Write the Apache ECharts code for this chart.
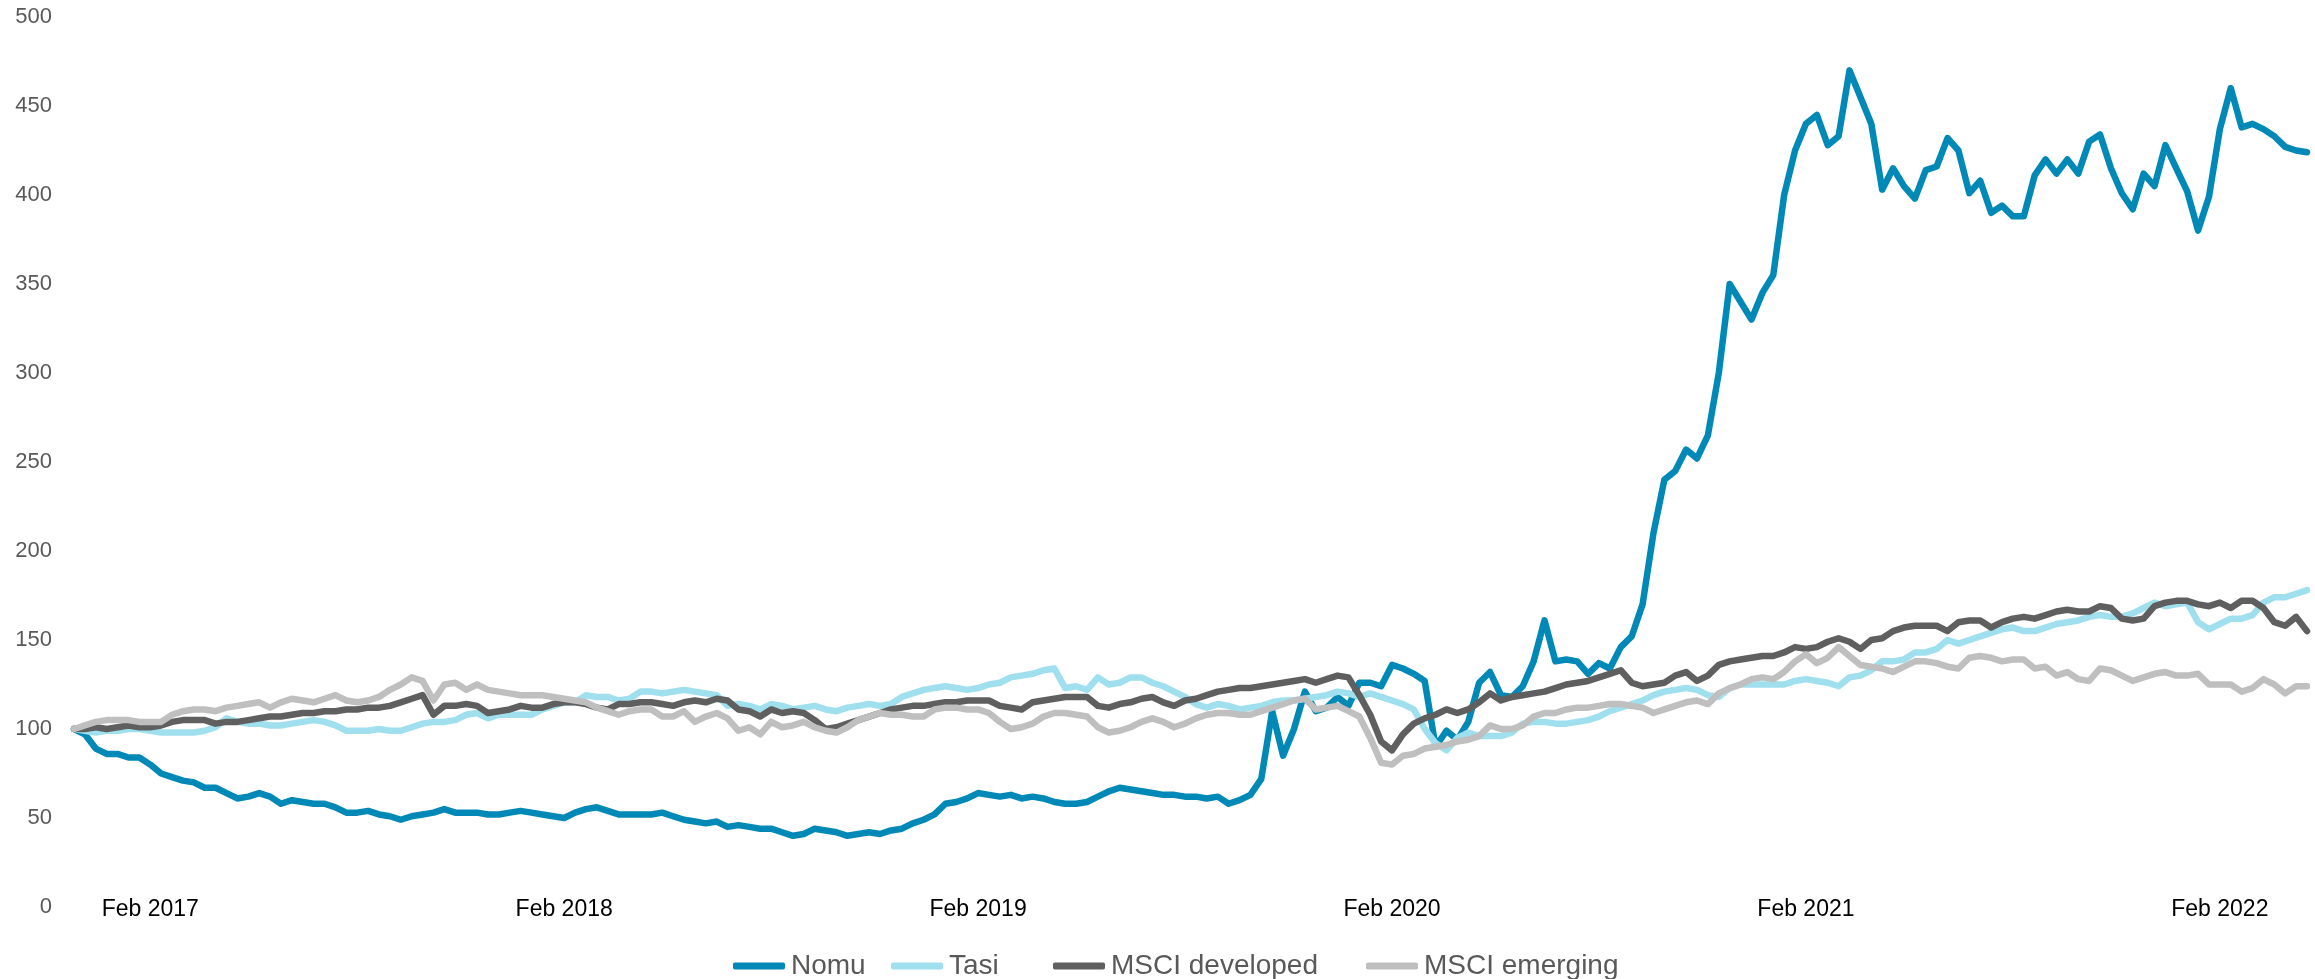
<!DOCTYPE html>
<html>
<head>
<meta charset="utf-8">
<script src="https://cdn.jsdelivr.net/npm/echarts@6/dist/echarts.min.js"></script>
<style>
html,body{margin:0;padding:0;background:#fff;}
#chart{width:2315px;height:979px;}
</style>
</head>
<body>
<div id="chart"></div>
<script>
// Period index (roughly every ~9.6 days, Dec 2016 – Apr 2022)
const tickLabels = ['Feb 2017','Feb 2018','Feb 2019','Feb 2020','Feb 2021','Feb 2022'];
const tickIndex = [7, 45, 83, 121, 159, 197];
const seriesNames = ['Nomu','Tasi','MSCI developed','MSCI emerging'];

const nomu = [100,97,89,86,86,84,84,80,75,73, 71,70,67,67,64,61,62,64,62,58, 60,59,58,58,56,53,53,54,52,51,
49,51,52,53,55,53,53,53,52,52, 53,54,53,52,51,50,53,55,56,54, 52,52,52,52,53,51,49,48,47,48,
45,46,45,44,44,42,40,41,44,43, 42,40,41,42,41,43,44,47,49,52, 58,59,61,64,63,62,63,61,62,61,
59,58,58,59,62,65,67,66,65,64, 63,63,62,62,61,62,58,60,63,72, 110,85,100,121,110,112,118,113,126,126,
124,136,134,131,127,90,99,94,104,126, 132,119,118,124,138,161,138,139,138,131, 137,134,146,152,170,210,240,245,257,252,
265,300,350,340,330,345,355,400,425,440, 445,428,433,470,455,440,403,415,405,398, 414,416,432,425,401,408,390,394,388,388,
411,420,412,420,412,430,434,415,401,392, 412,405,428,415,402,380,399,437,460,438, 440,437,433,427,425,424];

const tasi = [100,99,98,99,99,100,100,99,98,98, 98,98,99,101,106,104,103,103,102,102, 103,104,105,104,102,99,99,99,100,99,
99,101,103,104,104,105,108,109,106,108, 108,108,108,111,113,115,115,119,118,118, 116,117,121,121,120,121,122,121,120,119,
113,114,113,111,114,113,111,112,113,111, 110,112,113,114,113,114,118,120,122,123, 124,123,122,123,125,126,129,130,131,133,
134,123,124,122,129,125,126,129,129,126, 124,121,118,114,112,114,113,111,112,113, 115,116,116,117,118,119,121,120,118,120,
118,116,114,111,100,92,88,95,98,96, 96,96,98,103,104,104,103,103,104,105, 107,110,112,114,116,119,121,122,123,122,
119,118,123,125,125,125,125,125,127,128, 127,126,124,129,130,133,138,138,139,143, 143,145,150,148,150,152,154,156,157,155,
155,157,159,160,161,163,164,163,163,165, 168,171,169,170,171,160,156,159,162,162, 164,171,174,174,176,178];

const msciDeveloped = [100,100,101,100,101,102,101,101,102,104, 105,105,105,103,104,104,105,106,107,107, 108,109,109,110,110,111,111,112,112,113,
115,117,119,108,113,113,114,113,109,110, 111,113,112,112,114,115,115,114,112,111, 114,114,115,115,114,113,115,116,115,117,
116,111,110,107,111,109,110,109,105,100, 101,103,105,107,109,111,112,113,113,114, 115,115,116,116,116,113,112,111,115,116,
117,118,118,118,113,112,114,115,117,118, 115,113,116,117,119,121,122,123,123,124, 125,126,127,128,126,128,130,129,119,108,
93,88,97,103,106,108,111,109,111,115, 120,116,118,119,120,121,123,125,126,127, 129,131,133,126,124,125,126,130,132,127,
130,136,138,139,140,141,141,143,146,145, 146,149,151,149,145,150,151,155,157,158, 158,158,155,160,161,161,157,160,162,163,
162,164,166,167,166,166,169,168,162,161, 162,169,171,172,172,170,169,171,168,172, 172,168,160,158,163,155];

const msciEmerging = [100,102,104,105,105,105,104,104,104,108, 110,111,111,110,112,113,114,115,112,115, 117,116,115,117,119,116,115,116,118,122,
125,129,127,116,125,126,122,125,122,121, 120,119,119,119,118,117,116,115,112,110, 108,110,111,111,107,107,110,104,107,109,
106,99,101,97,104,101,102,104,101,99, 98,101,105,107,109,108,108,107,107,111, 112,112,111,111,109,104,100,101,103,107,
109,109,108,107,101,98,99,101,104,106, 104,101,103,106,108,109,109,108,108,110, 112,114,116,117,111,112,113,110,107,95,
81,80,85,86,89,90,91,93,94,96, 102,100,100,102,107,109,109,111,112,112, 113,114,114,113,112,109,111,113,115,116,
114,120,123,125,128,129,128,132,138,142, 137,140,146,141,136,135,134,132,135,138, 138,137,135,134,140,141,140,138,139,139,
134,135,130,132,128,127,134,133,130,127, 129,131,132,130,130,131,125,125,125,121, 123,128,125,120,124,124];

const categories = nomu.map((_, i) => String(i));
const colors = ['#0089B6', '#A0E0EE', '#5F5F5F', '#BFBFBF'];
const legendLeft = [728, 886, 1048, 1361];
const FONT = "'Liberation Sans', Arial, sans-serif";

const chart = echarts.init(document.getElementById('chart'), null, {renderer: 'canvas'});
const allData = [nomu, tasi, msciDeveloped, msciEmerging];

const option = {
  animation: false,
  backgroundColor: '#ffffff',
  grid: {left: 74, right: 8, top: 17, bottom: 72, containLabel: false},
  legend: seriesNames.map((n, i) => ({
    data: [{name: n, icon: 'roundRect'}],
    left: legendLeft[i],
    top: 947,
    itemWidth: 52,
    itemHeight: 7,
    itemGap: 0,
    textStyle: {fontSize: 28, color: '#595959', fontFamily: FONT, padding: [0, 0, 0, 1]},
    itemStyle: {color: colors[i], borderWidth: 0},
    lineStyle: {width: 0},
    selectedMode: false
  })),
  xAxis: {
    type: 'category',
    boundaryGap: false,
    data: categories,
    axisLine: {show: false},
    axisTick: {show: false},
    splitLine: {show: false},
    axisLabel: {
      interval: (idx) => tickIndex.indexOf(idx) >= 0,
      formatter: (val, idx) => {
        const k = tickIndex.indexOf(idx);
        return k >= 0 ? tickLabels[k] : '';
      },
      fontSize: 23,
      color: '#000000',
      fontFamily: FONT,
      verticalAlign: 'middle',
      margin: 3
    }
  },
  yAxis: {
    type: 'value',
    min: 0,
    max: 500,
    interval: 50,
    axisLine: {show: false},
    axisTick: {show: false},
    splitLine: {show: false},
    axisLabel: {fontSize: 22, color: '#595959', fontFamily: FONT, margin: 22}
  },
  series: seriesNames.map((n, i) => ({
    name: n,
    type: 'line',
    data: allData[i],
    symbol: 'none',
    smooth: false,
    lineStyle: {width: 6.5, color: colors[i], join: 'round', cap: 'round'},
    itemStyle: {color: colors[i]},
    emphasis: {disabled: true}
  }))
};
chart.setOption(option);
</script>
</body>
</html>
